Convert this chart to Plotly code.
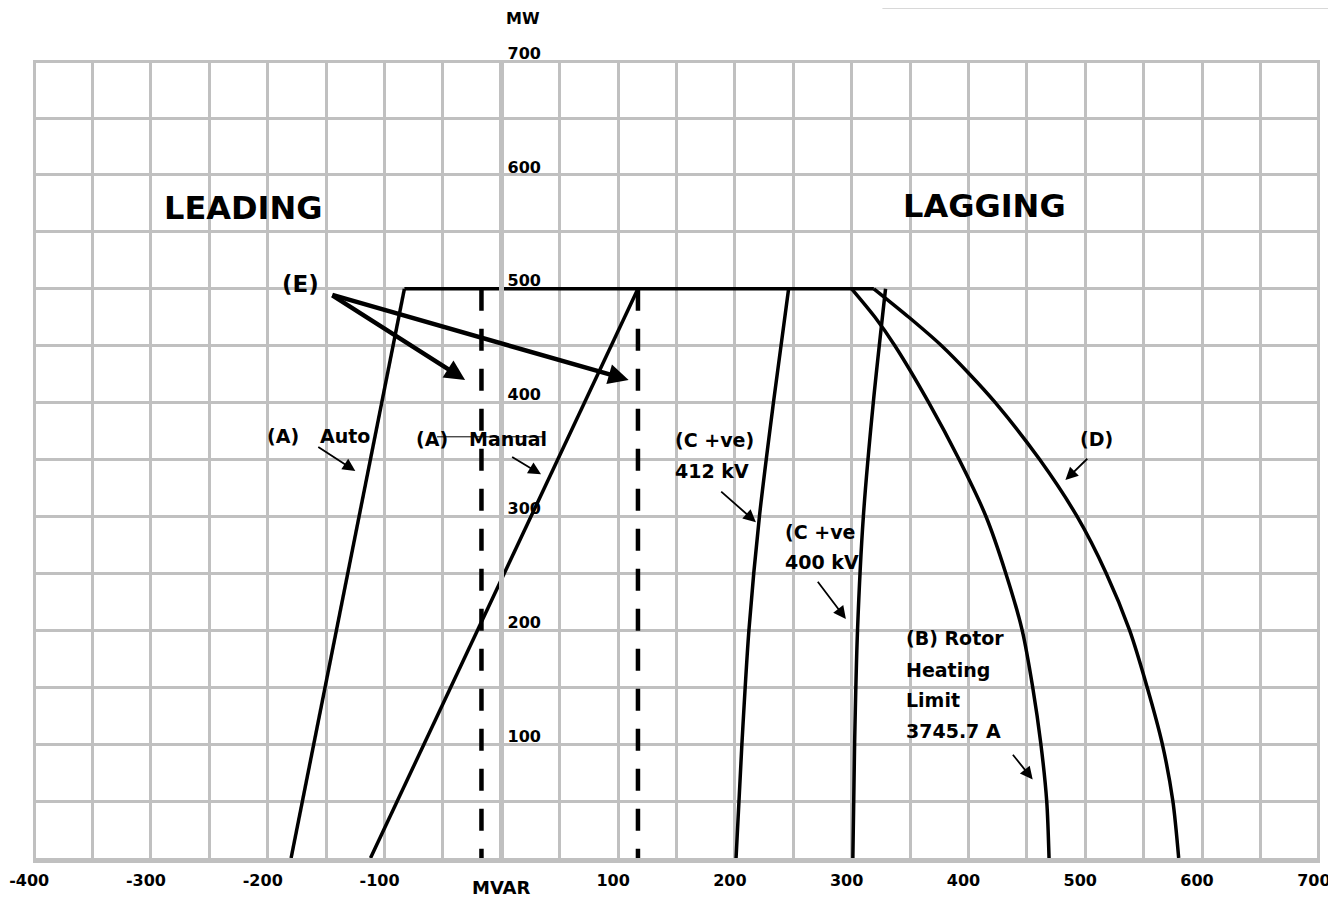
import plotly.graph_objects as go

# ---------------- data (MVAR, MW) ----------------
auto_q = [-180, -83]
auto_p = [0, 500]

manual_q = [-112, 117]
manual_p = [0, 500]

top_q = [-83, 319]
top_p = [500, 500]

c412_q = [201, 206, 212, 221, 233, 246]
c412_p = [0, 100, 200, 300, 400, 500]

c400_q = [301, 302.5, 305, 310, 318.5, 329]
c400_p = [0, 100, 200, 300, 400, 500]

rotor_q = [300, 320, 337, 366, 392, 415, 432, 446, 455, 462, 467, 469]
rotor_p = [500, 475, 450, 400, 350, 300, 250, 200, 150, 100, 50, 0]

stator_q = [319, 349, 377, 401, 423, 461, 493, 518, 538, 553, 566, 575, 580]
stator_p = [500, 475, 450, 425, 400, 350, 300, 250, 200, 150, 100, 50, 0]

dash_left_q = [-17, -17]
dash_right_q = [117, 117]
dash_p = [500, 0]

x_ticks = list(range(-400, 701, 50))
x_labels = [str(v) if (v % 100 == 0 and v != 0) else "" for v in x_ticks]
y_ticks = list(range(0, 701, 50))
y_labels = [str(v) if (v % 100 == 0 and v != 0) else "" for v in y_ticks]

# arrows: (tail_q, tail_p, head_q, head_p)
e_arrows = [(-146, 495, -31, 420), (-146, 495, 109, 420)]
small_arrows = [
    (-158, 362, -125, 340),   # Auto
    (8, 353, 34, 337),        # Manual
    (187, 323, 218, 295),     # 412 kV
    (270, 244, 295, 210),     # 400 kV
    (437, 92, 455, 69),       # Rotor
    (503, 352, 483, 332),     # D
]

# labels: (text, q, p, anchor, size, weight)
labels = [
    ("(A)", -187, 371, "center", 19, "bold"),
    ("Auto", -134, 371, "center", 19, "bold"),
    ("(A)", -59, 368, "center", 19, "bold"),
    ("Manual", 6, 368, "center", 19, "bold"),
    ("(C +ve)", 147, 367, "left", 19, "bold"),
    ("412 kV", 147, 340, "left", 19, "bold"),
    ("(C +ve", 241, 286, "left", 19, "bold"),
    ("400 kV", 241, 260, "left", 19, "bold"),
    ("(B) Rotor", 345, 193, "left", 19, "bold"),
    ("Heating", 345, 165, "left", 19, "bold"),
    ("Limit", 345, 139, "left", 19, "bold"),
    ("3745.7 A", 345, 112, "left", 19, "bold"),
    ("(D)", 510, 368, "center", 19, "bold"),
    ("(E)", -172, 504, "center", 23, "bold"),
    ("LEADING", -221, 571, "center", 32, "bold"),
    ("LAGGING", 414, 573, "center", 32, "bold"),
]

strike_q = [-55, 36]
strike_p = [370, 370]

FONT = "DejaVu Sans"
GRID = "#c0c0c0"

fig = go.Figure()

solid = dict(color="black", width=3.5)
curve = dict(color="black", width=3.5, shape="spline", smoothing=0.8)
fig.add_trace(go.Scatter(x=auto_q, y=auto_p, mode="lines", line=solid))
fig.add_trace(go.Scatter(x=manual_q, y=manual_p, mode="lines", line=solid))
fig.add_trace(go.Scatter(x=top_q, y=top_p, mode="lines", line=solid))
fig.add_trace(go.Scatter(x=c412_q, y=c412_p, mode="lines", line=curve))
fig.add_trace(go.Scatter(x=c400_q, y=c400_p, mode="lines", line=curve))
fig.add_trace(go.Scatter(x=rotor_q, y=rotor_p, mode="lines", line=curve))
fig.add_trace(go.Scatter(x=stator_q, y=stator_p, mode="lines", line=curve))
fig.add_trace(go.Scatter(x=dash_left_q, y=dash_p, mode="lines", line=dict(color="black", width=4.5, dash="22px,18px")))
fig.add_trace(go.Scatter(x=dash_right_q, y=dash_p, mode="lines", line=dict(color="black", width=4.5, dash="22px,18px")))
fig.add_trace(go.Scatter(x=strike_q, y=strike_p, mode="lines", line=dict(color="black", width=1)))

annotations = []
for tq, tp, hq, hp in e_arrows:
    annotations.append(dict(x=hq, y=hp, ax=tq, ay=tp, xref="x", yref="y", axref="x", ayref="y",
                            text="", showarrow=True, arrowhead=2, arrowsize=0.9, arrowwidth=4.5,
                            arrowcolor="black", standoff=0, startstandoff=0))
for tq, tp, hq, hp in small_arrows:
    annotations.append(dict(x=hq, y=hp, ax=tq, ay=tp, xref="x", yref="y", axref="x", ayref="y",
                            text="", showarrow=True, arrowhead=2, arrowsize=1.4, arrowwidth=1.8,
                            arrowcolor="black", standoff=0, startstandoff=0))
for txt, q, p, anc, size, weight in labels:
    annotations.append(dict(x=q, y=p, xref="x", yref="y", text=txt, showarrow=False,
                            xanchor=anc, yanchor="middle",
                            font=dict(family=FONT, size=size, color="black", weight=weight)))

annotations.append(dict(x=0, y=-29 / 798, xref="x", yref="paper", text="MVAR", showarrow=False,
                        xanchor="center", yanchor="middle",
                        font=dict(family=FONT, size=18, color="black", weight="bold")))
annotations.append(dict(x=0, y=840 / 798, xref="x", yref="paper", text="MW", showarrow=False,
                        xanchor="left", yanchor="middle", xshift=3,
                        font=dict(family=FONT, size=16, color="black", weight="bold")))

# page body has an 8px margin: figure sized to fit the window, plot area at screen x 33..1320, y 60..858
fig.update_layout(
    width=1328, height=892,
    margin=dict(l=25, r=16, t=52, b=42, autoexpand=False),
    paper_bgcolor="white", plot_bgcolor="white",
    showlegend=False,
    annotations=annotations,
    shapes=[dict(type="line", xref="paper", yref="paper", x0=0.66, x1=1.02, y0=1.0645, y1=1.0645,
                 line=dict(color="#d8d8d8", width=1))],
    xaxis=dict(range=[-401, 701], tickvals=x_ticks, ticktext=x_labels,
               showgrid=True, gridcolor=GRID, gridwidth=2.5, automargin=False,
               zeroline=False, showline=True, linecolor=GRID, linewidth=5,
               ticks="", ticklabelstandoff=4, ticklabelshift=-5,
               tickfont=dict(family=FONT, size=16, color="black", weight="bold")),
    yaxis=dict(range=[0, 701], tickvals=y_ticks, ticktext=y_labels,
               showgrid=True, gridcolor=GRID, gridwidth=2.5, automargin=False,
               zeroline=False, showline=True, linecolor=GRID, linewidth=5,
               anchor="free", position=401 / 1102, side="right",
               ticks="", ticklabelshift=-8, ticklabelstandoff=0,
               tickfont=dict(family=FONT, size=16, color="black", weight="bold")),
)

fig.write_html("out.html")
